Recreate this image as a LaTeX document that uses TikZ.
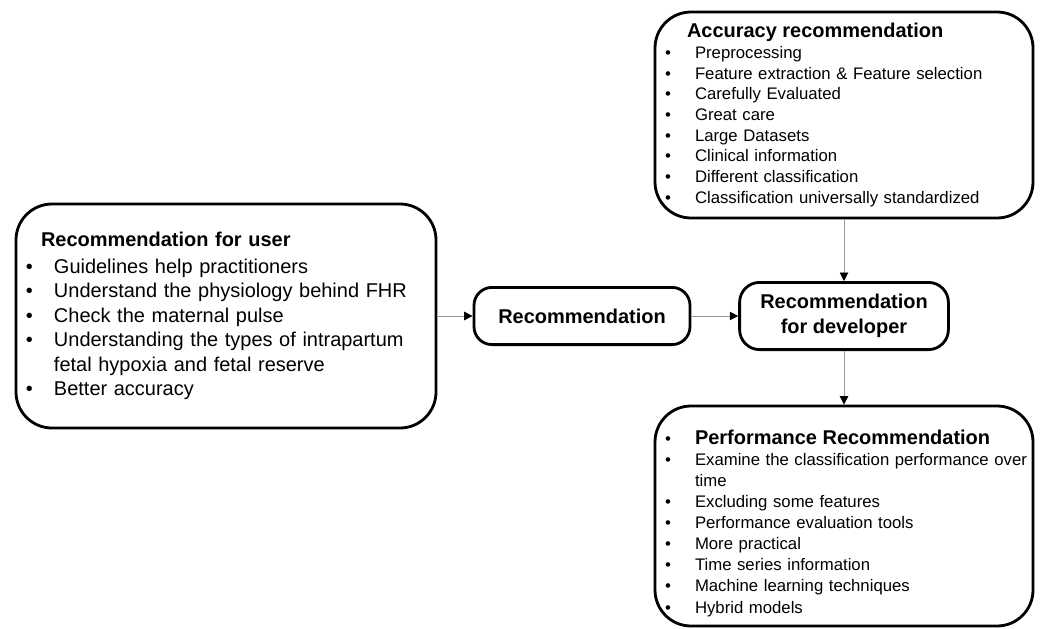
\documentclass[tikz,border=0pt]{standalone}
\usepackage{fontspec}
\setmainfont{Liberation Sans}
\usetikzlibrary{arrows.meta}

\newcommand{\bigsize}{\fontsize{14.2}{17.4}\selectfont}
\newcommand{\smallsize}{\fontsize{11.9}{14.7}\selectfont}
\newcommand{\bigitem}{\makebox[0.7cm][l]{\textbullet}}
\newcommand{\smallitem}{\makebox[0.75cm][l]{\textbullet}}

\begin{document}
\begin{tikzpicture}[
    box/.style={draw, rectangle, line width=2pt, align=left, inner xsep=0.25cm},
    midbox/.style={draw, rectangle, line width=2pt, rounded corners=0.45cm, align=center, font=\bigsize\bfseries},
    link/.style={draw=gray!80, line width=0.6pt, -{Triangle[length=6pt, width=6pt, black]}}
  ]
    \useasboundingbox (0,0) rectangle (26.05,-15.7);

    \node[box, rounded corners=0.9cm, minimum width=10.5cm, minimum height=5.6cm, text width=10cm, font=\bigsize] (user) at (5.65,-7.9) {
        \hspace*{0.375cm}\textbf{Recommendation for user}\\[1.5pt]
        \bigitem Guidelines help practitioners\\
        \bigitem Understand the physiology behind FHR\\
        \bigitem Check the maternal pulse\\
        \bigitem Understanding the types of intrapartum\\
        \hspace*{0.7cm}fetal hypoxia and fetal reserve\\
        \bigitem Better accuracy};

    \node[midbox, minimum width=5.4cm, minimum height=1.43cm] (rec) at (14.55,-7.9) {Recommendation};
    \node[midbox, rounded corners=0.5cm, minimum width=5.22cm, minimum height=1.68cm] (dev) at (21.1,-7.9) {Recommendation\\for developer};

    \node[box, rounded corners=0.9cm, minimum width=9.45cm, minimum height=5.15cm, text width=8.95cm, font=\smallsize] (acc) at (21.1,-2.875) {
        \hspace*{0.55cm}{\bigsize\textbf{Accuracy recommendation}}\\
        \smallitem Preprocessing\\
        \smallitem Feature extraction \& Feature selection\\
        \smallitem Carefully Evaluated\\
        \smallitem Great care\\
        \smallitem Large Datasets\\
        \smallitem Clinical information\\
        \smallitem Different classification\\
        \smallitem Classification universally standardized};

    \node[box, rounded corners=0.9cm, minimum width=9.45cm, minimum height=5.5cm, text width=8.95cm, font=\fontsize{11.9}{15}\selectfont] (perf) at (21.1,-12.9) {
        \smallitem{\bigsize\rule{0pt}{0.72cm}\textbf{Performance Recommendation}}\\
        \mbox{\smallitem Examine the classification performance over}\\
        \hspace*{0.75cm}time\\
        \smallitem Excluding some features\\
        \smallitem Performance evaluation tools\\
        \smallitem More practical\\
        \smallitem Time series information\\
        \smallitem Machine learning techniques\\
        \smallitem Hybrid models};

    \draw[link] (user) -- (rec);
    \draw[link] (rec) -- (dev);
    \draw[link] (acc) -- (dev);
    \draw[link] (dev) -- (perf);
\end{tikzpicture}
\end{document}
